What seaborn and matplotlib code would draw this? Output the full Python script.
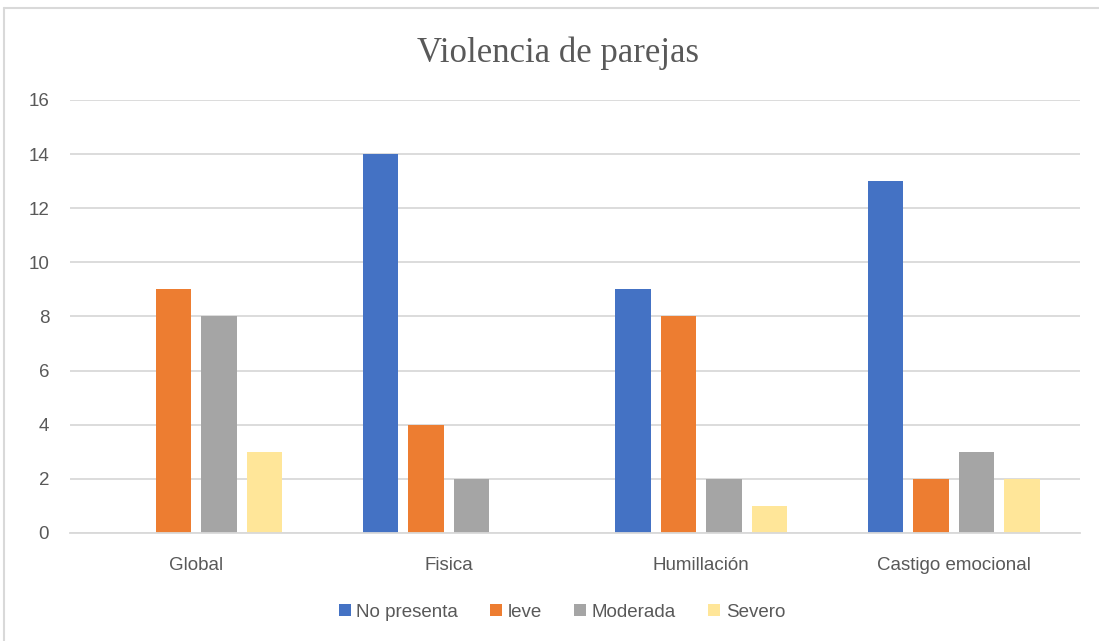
import pandas as pd
import matplotlib.pyplot as plt
import seaborn as sns
from matplotlib.lines import Line2D

# ==========================================
# DATOS
# ==========================================
categorias = ["Global", "Fisica", "Humillación", "Castigo emocional"]
niveles = ["No presenta", "leve", "Moderada", "Severo"]
no_presenta = [0, 14, 9, 13]
leve = [9, 4, 8, 2]
moderada = [8, 2, 2, 3]
severo = [3, 0, 1, 2]

colores = ["#4472C4", "#ED7D31", "#A5A5A5", "#FFE699"]

registros = []
for nivel, valores in zip(niveles, [no_presenta, leve, moderada, severo]):
    for cat, v in zip(categorias, valores):
        registros.append({"Categoria": cat, "Nivel": nivel, "Valor": v})
df = pd.DataFrame(registros)

# ==========================================
# GRAFICA
# ==========================================
sns.set_theme(style="white")
plt.rcParams['font.family'] = ['Liberation Sans', 'DejaVu Sans']

fig = plt.figure(figsize=(10.99, 6.41), dpi=100)
ax = fig.add_axes([0.0637, 0.1685, 0.919, 0.6755])

sns.barplot(data=df, x="Categoria", y="Valor", hue="Nivel", order=categorias,
            hue_order=niveles, palette=colores, width=0.72, gap=0.22,
            saturation=1, ax=ax, legend=True, linewidth=0)

ax.set_ylim(0, 16)
ax.set_yticks(range(0, 17, 2))
ax.set_xlim(-0.5, 3.5)
ax.yaxis.grid(True, color="#D9D9D9", linewidth=1.3)
ax.set_axisbelow(True)
for s in ["top", "right", "left"]:
    ax.spines[s].set_visible(False)
ax.spines["bottom"].set_color("#D9D9D9")
ax.spines["bottom"].set_linewidth(1.3)
ax.tick_params(axis="both", length=0, labelsize=13.5, colors="#595959", pad=17)
ax.tick_params(axis="y", pad=15)
ax.set_xlabel("")
ax.set_ylabel("")

fig.text(0.508, 0.917, "Violencia de parejas", ha="center", va="center",
         fontsize=25, color="#595959", family="Liberation Serif")

ax.legend(loc="center", bbox_to_anchor=(0.487, -0.183), ncol=4, frameon=False,
          fontsize=13.5, labelcolor="#595959", handlelength=0.65, handleheight=0.65,
          handletextpad=0.3, columnspacing=1.7)

# marco del grafico (solo borde izquierdo y superior visibles)
fig.add_artist(Line2D([0.0036, 0.0036], [0, 0.987], color="#D9D9D9", linewidth=1.5))
fig.add_artist(Line2D([0.0036, 1], [0.987, 0.987], color="#D9D9D9", linewidth=1.5))

plt.savefig("out.png", dpi=100)
